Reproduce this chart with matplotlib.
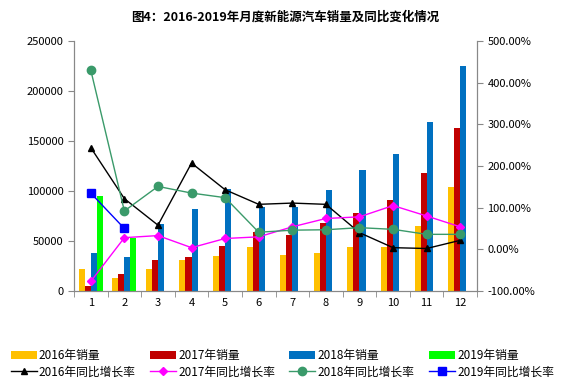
import numpy as np
from matplotlib import pyplot as plt
from matplotlib.ticker import FuncFormatter, MultipleLocator

plt.rcParams['font.family'] = ['Noto Sans CJK SC', 'DejaVu Sans']

months = [str(m) for m in range(1, 13)]
sales_2016 = [22000, 13000, 22000, 31000, 35000, 44000, 36000, 38000, 44000, 44000, 65000, 104000]
sales_2017 = [5300, 17300, 31000, 34000, 45000, 59000, 56000, 68000, 78000, 90700, 118300, 163000]
sales_2018 = [38000, 34000, 67000, 81700, 101700, 84000, 84000, 100700, 120700, 137000, 169000, 225000]
sales_2019 = [95300, 53000]
rate_2016 = [244, 121.6, 58, 207, 143, 108, 111, 108, 40, 4, 2, 21.6]
rate_2017 = [-77, 28, 33, 4, 26, 30, 54, 74, 78, 105, 80, 54]
rate_2018 = [430, 92, 151, 135, 124, 41, 46, 47, 52, 48, 36, 36]
rate_2019 = [135, 50]

fig = plt.figure(figsize=(5.67, 3.89), dpi=100)
ax = fig.add_axes([74 / 567, 1 - 291 / 389, (477 - 74) / 567, 250 / 389])
ax2 = ax.twinx()

x = np.arange(len(months))
w = 0.18
b16 = ax.bar(x - 1.5 * w, sales_2016, w, color='#FFC000', label='2016年销量')
b17 = ax.bar(x - 0.5 * w, sales_2017, w, color='#C00000', label='2017年销量')
b18 = ax.bar(x + 0.5 * w, sales_2018, w, color='#0070C0', label='2018年销量')
b19 = ax.bar(x[:2] + 1.5 * w, sales_2019, w, color='#00FF00', label='2019年销量')

l16, = ax2.plot(x, rate_2016, color='black', marker='^', markersize=5, lw=1, label='2016年同比增长率')
l17, = ax2.plot(x, rate_2017, color='#FF00FF', marker='D', markersize=4, lw=1, label='2017年同比增长率')
l18, = ax2.plot(x, rate_2018, color='#3A9A6A', marker='o', markersize=6, lw=1, label='2018年同比增长率')
l19, = ax2.plot(x[:2], rate_2019, color='#0000FF', marker='s', markersize=6, lw=1, label='2019年同比增长率')

ax.set_xlim(-0.5, 11.5)
ax.set_ylim(0, 250000)
ax.yaxis.set_major_locator(MultipleLocator(50000))
ax2.set_ylim(-100, 500)
ax2.yaxis.set_major_locator(MultipleLocator(100))
ax2.yaxis.set_major_formatter(FuncFormatter(lambda v, p: '%.2f%%' % v))

ax.set_xticks(x)
ax.set_xticklabels(months)
ax.set_xticks(np.arange(-0.5, 12, 1), minor=True)
ax.tick_params(axis='x', which='major', length=0, labelsize=8, pad=5)
ax.tick_params(axis='x', which='minor', length=4, color='#888888')
ax.tick_params(axis='y', labelsize=8, length=4, color='#888888')
ax2.tick_params(axis='y', labelsize=8, length=4, color='#888888')

for a in (ax, ax2):
    a.spines['top'].set_visible(False)
    for s in ('left', 'right', 'bottom'):
        a.spines[s].set_color('#888888')

fig.text(0.503, 0.955, '图4：2016-2019年月度新能源汽车销量及同比变化情况',
         ha='center', va='center', fontsize=9, fontweight='bold')

handles = [b16, l16, b17, l17, b18, l18, b19, l19]
fig.legend(handles=handles, labels=[h.get_label() for h in handles], ncol=4,
           loc='lower left', bbox_to_anchor=(0.0, 0.0), frameon=False, fontsize=8.5,
           handlelength=2.2, handletextpad=0.2, columnspacing=1.2, labelspacing=0.3)

plt.savefig('out.png', dpi=100)
